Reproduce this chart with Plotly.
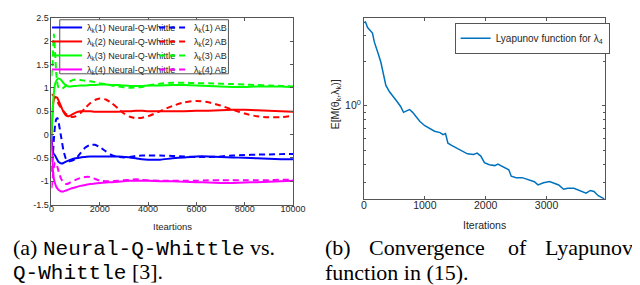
import plotly.graph_objects as go
import math

# ---------------- data: panel (a) ----------------
iters_a = [0, 50, 100, 150, 200, 250, 300, 400, 500, 600, 700, 800, 1000, 1200, 1400, 1600,
           1800, 2000, 2250, 2500, 2750, 3000, 3250, 3500, 3750, 4000, 4500, 5000, 5500, 6000,
           6500, 7000, 7500, 8000, 8500, 9000, 9500, 10000]

blue_nqw = [0.0, -0.35, -0.42, -0.45, -0.5, -0.55, -0.59, -0.62, -0.61, -0.58, -0.56, -0.54,
            -0.51, -0.49, -0.48, -0.47, -0.47, -0.47, -0.47, -0.47, -0.47, -0.48, -0.49, -0.51,
            -0.53, -0.54, -0.54, -0.51, -0.49, -0.47, -0.47, -0.48, -0.49, -0.5, -0.51, -0.52,
            -0.53, -0.53]
blue_ab = [-0.8, -0.5, -0.1, 0.2, 0.33, 0.35, 0.25, -0.05, -0.35, -0.52, -0.57, -0.57,
           -0.52, -0.4, -0.28, -0.22, -0.22, -0.27, -0.36, -0.44, -0.48, -0.49, -0.48, -0.46,
           -0.45, -0.45, -0.45, -0.46, -0.47, -0.48, -0.48, -0.47, -0.45, -0.44, -0.43, -0.43,
           -0.42, -0.42]
red_nqw = [0.0, 0.55, 0.75, 0.8, 0.8, 0.78, 0.72, 0.6, 0.48, 0.41, 0.39, 0.41,
           0.47, 0.5, 0.5, 0.5, 0.49, 0.49, 0.49, 0.49, 0.49, 0.5, 0.5, 0.51,
           0.51, 0.5, 0.5, 0.5, 0.5, 0.51, 0.51, 0.52, 0.53, 0.53, 0.52, 0.51, 0.5, 0.49]
red_ab = [0.85, 0.85, 0.82, 0.78, 0.74, 0.7, 0.65, 0.57, 0.5, 0.44, 0.4, 0.38,
          0.39, 0.46, 0.57, 0.67, 0.74, 0.77, 0.75, 0.67, 0.56, 0.45, 0.38, 0.35,
          0.36, 0.39, 0.5, 0.61, 0.69, 0.72, 0.69, 0.62, 0.53, 0.45, 0.39, 0.37, 0.37, 0.4]
green_nqw = [0.0, 0.5, 0.9, 1.08, 1.15, 1.19, 1.2, 1.17, 1.1, 1.05, 1.03, 1.03,
             1.04, 1.05, 1.05, 1.06, 1.06, 1.07, 1.07, 1.06, 1.06, 1.05, 1.04, 1.04,
             1.04, 1.05, 1.05, 1.06, 1.06, 1.05, 1.04, 1.03, 1.02, 1.02, 1.03, 1.03, 1.03, 1.02]
green_ab = [1.25, 1.6, 2.15, 1.75, 1.3, 1.08, 1.0, 0.98, 1.0, 1.05, 1.1, 1.15,
            1.18, 1.17, 1.15, 1.14, 1.12, 1.1, 1.08, 1.05, 1.03, 1.01, 1.0, 1.01,
            1.02, 1.05, 1.09, 1.11, 1.11, 1.1, 1.1, 1.09, 1.08, 1.07, 1.06, 1.05, 1.04, 1.03]
magenta_nqw = [-0.1, -0.7, -0.95, -1.05, -1.12, -1.16, -1.19, -1.22, -1.22, -1.2, -1.18, -1.16,
               -1.13, -1.1, -1.08, -1.06, -1.05, -1.04, -1.03, -1.02, -1.01, -1.0, -0.99, -0.99,
               -0.99, -0.99, -1.0, -1.0, -1.01, -1.02, -1.03, -1.04, -1.04, -1.03, -1.02, -1.01,
               -1.0, -0.99]
magenta_ab = [-1.15, -0.95, -0.7, -0.6, -0.62, -0.7, -0.8, -0.95, -1.03, -1.06, -1.05, -1.02,
              -0.97, -0.93, -0.91, -0.91, -0.95, -0.99, -1.0, -1.0, -0.99, -0.98, -0.97, -0.96,
              -0.97, -0.98, -0.99, -0.99, -0.99, -0.99, -0.98, -0.98, -0.98, -0.98, -0.98, -0.98,
              -0.97, -0.97]

a_xticks = [0, 2000, 4000, 6000, 8000, 10000]
a_xticktext = ["0", "2000", "4000", "6000", "8000", "10000"]
a_yticks = [-1.5, -1, -0.5, 0, 0.5, 1, 1.5, 2, 2.5]
a_yticktext = ["-1.5", "-1", "-0.5", "0", "0.5", "1", "1.5", "2", "2.5"]

# ---------------- data: panel (b) ----------------
iters_b = [0, 25, 60, 100, 140, 170, 200, 240, 280, 320, 360, 420, 480, 540, 600, 650, 700,
           750, 800, 860, 920, 1000, 1080, 1160, 1250, 1300, 1340, 1380, 1440, 1520, 1600,
           1700, 1800, 1860, 1920, 1980, 2060, 2150, 2200, 2300, 2380, 2420, 2500, 2600, 2700,
           2800, 2860, 2950, 3050, 3120, 3200, 3280, 3350, 3450, 3550, 3650, 3720, 3780, 3850,
           3950]
lyap = [3.65, 3.69, 3.38, 3.22, 3.10, 2.70, 2.44, 2.21, 1.95, 1.59, 1.37, 1.24, 1.14, 1.07,
        0.99, 0.90, 0.92, 0.94, 0.90, 0.83, 0.78, 0.73, 0.70, 0.67, 0.656, 0.636, 0.646, 0.556,
        0.537, 0.516, 0.495, 0.471, 0.466, 0.476, 0.455, 0.411, 0.397, 0.392, 0.401, 0.382,
        0.367, 0.332, 0.325, 0.325, 0.315, 0.305, 0.290, 0.300, 0.306, 0.300, 0.290, 0.271,
        0.275, 0.275, 0.266, 0.255, 0.266, 0.262, 0.245, 0.233]

b_xticks = [0, 1000, 2000, 3000]
b_yticks = [1]
b_yticktext = ["10<sup>0</sup>"]
b_yminor = [0.3, 0.4, 0.5, 0.6, 0.7, 0.8, 0.9, 2, 3]

# ---------------- layout helpers ----------------
W, H = 640, 285
def px(x):
    return x / W
def py(y):
    return 1 - y / H

SANS = "Liberation Sans, Arial, sans-serif"
SERIF = "Liberation Serif, Times New Roman, serif"
MONO = "Liberation Mono"
AXC = "#555555"
TXT = "#262626"

fig = go.Figure()

series = [(blue_nqw, blue_ab, "#0000FF"), (red_nqw, red_ab, "#FF0000"),
          (green_nqw, green_ab, "#00FF00"), (magenta_nqw, magenta_ab, "#FF00FF")]
for i, (nqw, ab, col) in enumerate(series):
    lg = "legend" if i == 0 else f"legend{i + 1}"
    fig.add_trace(go.Scatter(x=iters_a, y=nqw, mode="lines", xaxis="x", yaxis="y",
                             line=dict(color=col, width=2, shape="spline", smoothing=0.5),
                             name=f"λ<sub>k</sub>({i + 1}) Neural-Q-Whittle", legend=lg))
    fig.add_trace(go.Scatter(x=iters_a, y=ab, mode="lines", xaxis="x", yaxis="y",
                             line=dict(color=col, width=2, dash="6px,4px", shape="spline", smoothing=0.5),
                             name=f"λ<sub>k</sub>({i + 1}) AB", legend=lg))

fig.add_trace(go.Scatter(x=iters_b, y=lyap, mode="lines", xaxis="x2", yaxis="y2",
                         line=dict(color="#0072BD", width=1.5),
                         name="Lyapunov function for λ<sub>4</sub>", legend="legend5"))

axis_common = dict(showline=True, linecolor=AXC, linewidth=1, mirror="ticks", ticks="inside",
                   ticklen=3, tickcolor=AXC, showgrid=False, zeroline=False)

fig.update_layout(
    width=W, height=H, margin=dict(l=0, r=0, t=0, b=0),
    paper_bgcolor="white", plot_bgcolor="white",
    font=dict(family=SANS, color=TXT),
    xaxis=dict(axis_common, domain=[px(41.5), px(289.3)], range=[0, 10000], anchor="y",
               tickmode="array", tickvals=a_xticks, ticktext=a_xticktext,
               tickfont=dict(size=9, color=TXT), ticklabelstandoff=-4),
    yaxis=dict(axis_common, domain=[py(198.5), py(5)], range=[-1.5, 2.5], anchor="x",
               tickmode="array", tickvals=a_yticks, ticktext=a_yticktext,
               tickfont=dict(size=9, color=TXT)),
    xaxis2=dict(axis_common, domain=[px(362), px(609)], range=[0, 3957], anchor="y2",
                tickmode="array", tickvals=b_xticks, tickfont=dict(size=10.5, color=TXT),
                ticklabelstandoff=-4),
    yaxis2=dict(axis_common, domain=[py(193), py(4.7)], type="log",
                range=[math.log10(0.232), math.log10(3.95)], anchor="x2",
                tickmode="array", tickvals=b_yticks, ticktext=b_yticktext,
                tickfont=dict(size=10.5, color=TXT),
                minor=dict(tickmode="array", tickvals=b_yminor, ticks="inside", ticklen=2,
                           tickcolor=AXC, showgrid=False)),
)

leg_common = dict(orientation="h", bgcolor="rgba(0,0,0,0)", borderwidth=0,
                  font=dict(size=9, family=SANS, color=TXT), entrywidth=62,
                  entrywidthmode="pixels", xanchor="left", yanchor="middle", x=px(37),
                  itemwidth=30)
fig.update_layout(
    legend=dict(leg_common, y=py(15)),
    legend2=dict(leg_common, y=py(29.5)),
    legend3=dict(leg_common, y=py(44)),
    legend4=dict(leg_common, y=py(58.5)),
    legend5=dict(orientation="v", bgcolor="white", bordercolor=AXC, borderwidth=1,
                 font=dict(size=10, family=SANS, color=TXT), xanchor="left", yanchor="top",
                 x=px(455), y=py(10), itemwidth=30),
)

fig.add_shape(type="rect", xref="paper", yref="paper", x0=px(50), x1=px(223), y0=py(63), y1=py(7),
              line=dict(color=AXC, width=1), fillcolor="white", layer="above")

ann = []
ann.append(dict(text="Iteartions", x=px(165.4), y=py(221.5), font=dict(size=9.5, color=TXT)))
ann.append(dict(text="Iterations", x=px(485.5), y=py(220), font=dict(size=10.5, color=TXT)))
ann.append(dict(text="E[M(θ<sub>k</sub>,λ<sub>k</sub>)]", x=px(333), y=py(95), textangle=-90,
                font=dict(size=10.5, color=TXT)))
cap_font = dict(family=SERIF, size=22, color="black")
mono = lambda s: f'<span style="font-family:{MONO}; font-size:21px">{s}</span>'
ann.append(dict(text="(a) " + mono("Neural-Q-Whittle") + " vs.", x=0, y=py(244),
                xanchor="left", font=cap_font))
ann.append(dict(text=mono("Q-Whittle") + " [3].", x=0, y=py(268.5), xanchor="left", font=cap_font))
ann.append(dict(text="(b)", x=px(320), y=py(243), xanchor="left", font=cap_font))
ann.append(dict(text="Convergence", x=px(365), y=py(243), xanchor="left", font=cap_font))
ann.append(dict(text="of", x=px(508), y=py(243), xanchor="left", font=cap_font))
ann.append(dict(text="Lyapunov", x=px(640), y=py(243), xanchor="right", font=cap_font))
ann.append(dict(text="function in (15).", x=px(320), y=py(268.5), xanchor="left", font=cap_font))
for a in ann:
    a.setdefault("xanchor", "center")
    a.update(xref="paper", yref="paper", yanchor="middle", showarrow=False)
    fig.add_annotation(**a)

fig.write_html("out.html")
